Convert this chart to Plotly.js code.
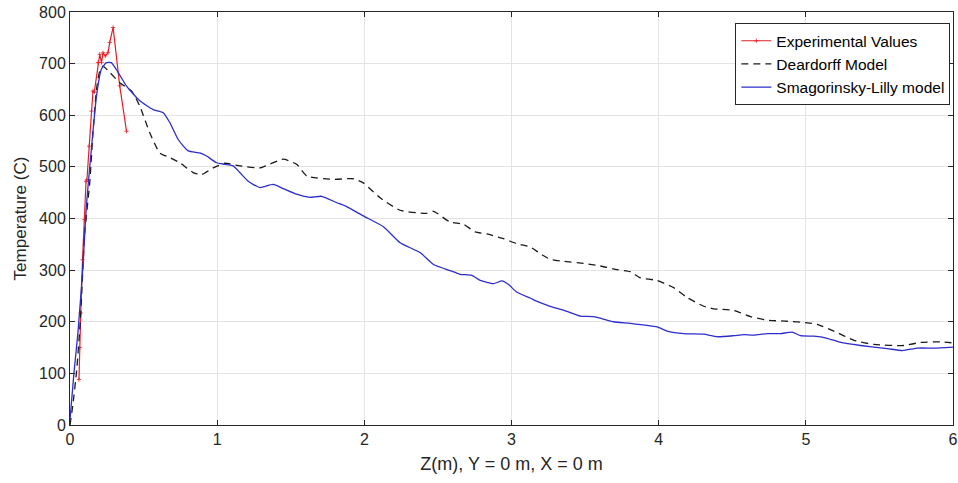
<!DOCTYPE html>
<html>
<head>
<meta charset="utf-8">
<script src="https://cdn.plot.ly/plotly-3.0.1.min.js"></script>
<style>html,body{margin:0;padding:0;background:#fff;}#chart{width:958px;height:483px;}</style>
</head>
<body>
<div id="chart"></div>
<script>
// Experimental Values
const zExp = [0.061,0.066,0.073,0.085,0.098,0.109,0.115,0.13,0.146,0.156,0.165,0.19,0.202,0.214,0.224,0.24,0.258,0.27,0.293,0.338,0.384];
const tExp = [88,150,217,320,398,472,475,540,608,647,645,702,718,702,721,715,721,741,770,657,569];

// Deardorff Model
const zDea = [0,0.02,0.045,0.07,0.1,0.134,0.156,0.18,0.202,0.224,0.27,0.338,0.418,0.474,0.542,0.61,0.678,0.746,0.837,0.894,0.973,1.052,1.154,1.29,1.449,1.54,1.61,1.79,1.925,1.993,2.107,2.243,2.424,2.47,2.583,2.673,2.753,2.833,2.946,3.037,3.127,3.195,3.263,3.354,3.49,3.603,3.717,3.807,3.876,3.989,4.102,4.193,4.306,4.374,4.51,4.624,4.737,4.873,5.009,5.077,5.19,5.327,5.463,5.667,5.78,5.916,6.0];
const tDea = [0,40,105,200,372,469,566,650,686,695,683,663,647,618,566,527,518,508,489,485,498,507,502,498,515,505,482,476,477,469,440,416,410,414,393,389,374,370,361,351,345,332,321,317,313,308,301,297,285,280,266,247,230,225,222,210,203,201,198,195,182,164,156,154,160,161,159];

// Smagorinsky-Lilly model
const zSma = [0,0.027,0.054,0.088,0.111,0.145,0.18,0.213,0.247,0.281,0.327,0.383,0.474,0.565,0.633,0.678,0.735,0.803,0.882,0.928,0.996,1.052,1.109,1.154,1.211,1.29,1.38,1.449,1.54,1.63,1.71,1.81,1.88,1.993,2.13,2.243,2.379,2.47,2.583,2.65,2.73,2.787,2.878,2.935,2.98,3.037,3.127,3.17,3.263,3.377,3.467,3.558,3.694,3.807,3.989,4.057,4.17,4.306,4.397,4.51,4.578,4.646,4.737,4.828,4.907,4.964,5.054,5.145,5.236,5.372,5.554,5.656,5.758,5.871,6.0];
const tSma = [10,101,179,308,424,534,637,689,702,702,683,657,628,611,605,586,553,531,527,521,508,505,502,489,472,460,466,458,447,441,443,431,423,405,384,353,334,311,299,292,290,280,274,279,272,257,246,240,230,220,211,210,200,197,190,182,177,176,171,173,175,174,177,177,180,173,172,168,160,154,148,144,149,149,151];

const seriesNames = ['Experimental Values','Deardorff Model','Smagorinsky-Lilly model'];
const xTitle = 'Z(m), Y = 0 m, X = 0 m';
const yTitle = 'Temperature (C)';

const FONT = 'Liberation Sans, Arial, Helvetica, sans-serif';
const AX = '#262626';

const traces = [
  {x: zExp, y: tExp, name: seriesNames[0], mode: 'lines+markers', type: 'scatter',
   line: {color: 'rgb(228,30,38)', width: 1.2},
   marker: {symbol: 'cross-thin-open', size: 3, color: 'rgb(228,30,38)', line: {color: 'rgb(228,30,38)', width: 0.8}}},
  {x: zDea, y: tDea, name: seriesNames[1], mode: 'lines', type: 'scatter',
   line: {color: '#1a1a1a', width: 1.3, dash: '7px,5px', shape: 'spline', smoothing: 0.5}},
  {x: zSma, y: tSma, name: seriesNames[2], mode: 'lines', type: 'scatter',
   line: {color: 'rgb(45,45,205)', width: 1.3, shape: 'spline', smoothing: 0.5}}
];

const layout = {
  width: 958, height: 483,
  margin: {l: 70, r: 5, t: 12, b: 58, pad: 0},
  paper_bgcolor: '#fff', plot_bgcolor: '#fff',
  font: {family: FONT, size: 16, color: AX},
  showlegend: true,
  legend: {x: 0.997, y: 0.973, xanchor: 'right', yanchor: 'top',
    bgcolor: '#fff', bordercolor: AX, borderwidth: 1,
    font: {family: FONT, size: 15.5, color: '#000'}, itemwidth: 30, tracegroupgap: 0},
  xaxis: {range: [0, 6], dtick: 1, tick0: 0, showgrid: true, gridcolor: '#e3e3e3', gridwidth: 1,
    zeroline: false, showline: true, linecolor: AX, linewidth: 1, mirror: 'ticks',
    ticks: 'inside', ticklen: 5, tickcolor: AX, tickfont: {size: 16, color: AX},
    title: {text: xTitle, font: {size: 18, color: AX}, standoff: 10}},
  yaxis: {range: [0, 800], dtick: 100, tick0: 0, showgrid: true, gridcolor: '#e3e3e3', gridwidth: 1,
    zeroline: false, showline: true, linecolor: AX, linewidth: 1, mirror: 'ticks',
    ticks: 'inside', ticklen: 5, tickcolor: AX, tickfont: {size: 16, color: AX},
    title: {text: yTitle, font: {size: 17, color: AX}, standoff: 8}}
};

Plotly.newPlot('chart', traces, layout, {displayModeBar: false, staticPlot: true});
</script>
</body>
</html>
